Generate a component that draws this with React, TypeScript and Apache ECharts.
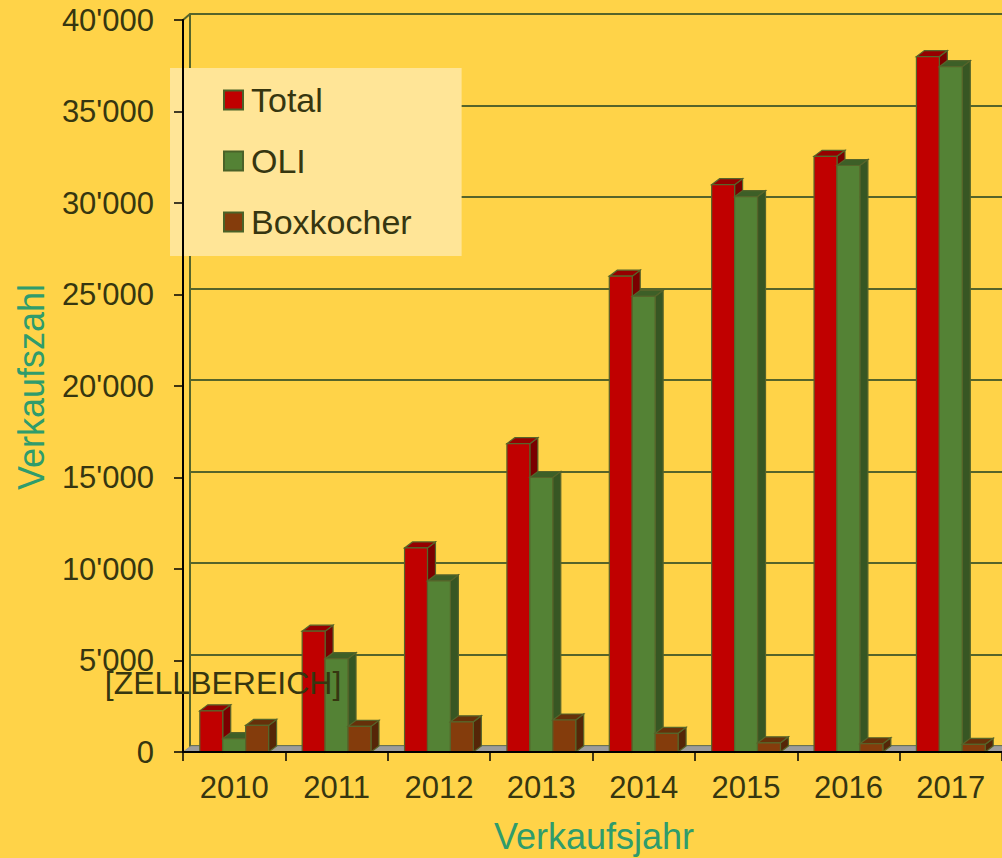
import React, { useEffect, useRef } from "react";
import * as echarts from "echarts";

const years = ["2010", "2011", "2012", "2013", "2014", "2015", "2016", "2017"];
const total = [2250, 6600, 11150, 16850, 26000, 31000, 32550, 38000];
const oli = [730, 5100, 9350, 15000, 24900, 30350, 32050, 37450];
const boxkocher = [1450, 1400, 1650, 1750, 1020, 500, 450, 420];
const seriesNames = ["Total", "OLI", "Boxkocher"];
const yTicks = { min: 0, max: 40000, interval: 5000 };

const FONT = "Liberation Sans, Arial, sans-serif";
const TEXT = "#363610";
const TITLE = "#2f9c6c";
const BG = "#FFD348";
const OLIVE = "#56642a";
const DX = 8;
const DY = -6;

const palette = [
  { front: "#C00000", top: "#960000", side: "#7a0000" },
  { front: "#548235", top: "#3d5f27", side: "#375623" },
  { front: "#843C0C", top: "#66300a", side: "#552608" },
];

function fmt(v: number) {
  if (v === 0) return "0";
  const s = String(v);
  return s.slice(0, s.length - 3) + "'" + s.slice(s.length - 3);
}

function barRenderer(k: number) {
  return (params: any, api: any) => {
    const idx = api.value(0);
    const val = api.value(1);
    const top = api.coord([idx, val]);
    const base = api.coord([idx, 0]);
    const band = api.size([1, 0])[0];
    const bw = band * 0.224;
    const x0 = top[0] - 1.5 * bw + k * bw;
    const x1 = x0 + bw;
    const yT = top[1];
    const yB = base[1];
    const c = palette[k];
    const stroke = { stroke: OLIVE, lineWidth: 1.2 };
    return {
      type: "group",
      children: [
        {
          type: "polygon",
          shape: { points: [[x1, yT], [x1 + DX, yT + DY], [x1 + DX, yB + DY], [x1, yB]] },
          style: { fill: c.side, ...stroke },
        },
        {
          type: "polygon",
          shape: { points: [[x0, yT], [x1, yT], [x1 + DX, yT + DY], [x0 + DX, yT + DY]] },
          style: { fill: c.top, ...stroke },
        },
        {
          type: "rect",
          shape: { x: x0, y: yT, width: bw, height: yB - yT },
          style: { fill: c.front, ...stroke },
        },
      ],
    };
  };
}

function floorRenderer(params: any, api: any) {
  if (api.value(0) !== 0) return null;
  const band = api.size([1, 0])[0];
  const a = api.coord([0, 0]);
  const b = api.coord([years.length - 1, 0]);
  const l = a[0] - band / 2;
  const r = b[0] + band / 2;
  const y = a[1];
  return {
    type: "polygon",
    shape: { points: [[l, y], [r, y], [r + DX, y + DY], [l + DX, y + DY]] },
    style: { fill: "#9c9c9c", stroke: "#8a8a8a", lineWidth: 0.8 },
  };
}

export default function App() {
  const ref = useRef<HTMLDivElement>(null);
  useEffect(() => {
    if (!ref.current) return;
    const chart = echarts.init(ref.current, undefined, { renderer: "svg" });
    const seriesData = [total, oli, boxkocher];
    chart.setOption({
      animation: false,
      backgroundColor: BG,
      textStyle: { fontFamily: FONT },
      grid: [
        { left: 183, top: 20, width: 822, height: 732 },
        { left: 190, top: 14, width: 822, height: 732 },
      ],
      xAxis: [
        {
          type: "category",
          gridIndex: 0,
          data: years,
          z: 5,
          axisLine: { lineStyle: { color: "#000", width: 2 } },
          axisTick: { show: true, length: 9, lineStyle: { color: "#000", width: 1.5 } },
          axisLabel: { color: TEXT, fontSize: 31, fontFamily: FONT, margin: 20 },
        },
        {
          type: "category",
          gridIndex: 1,
          data: years,
          show: false,
        },
      ],
      yAxis: [
        {
          type: "value",
          gridIndex: 0,
          ...yTicks,
          z: 5,
          splitLine: { show: false },
          axisLine: { show: true, lineStyle: { color: "#000", width: 2 } },
          axisTick: { show: true, length: 9, lineStyle: { color: "#000", width: 1.5 } },
          axisLabel: { color: TEXT, fontSize: 31, fontFamily: FONT, margin: 29, formatter: fmt },
        },
        {
          type: "value",
          gridIndex: 1,
          ...yTicks,
          axisLine: { show: true, lineStyle: { color: OLIVE, width: 2 } },
          axisTick: { show: false },
          axisLabel: { show: false },
          splitLine: { show: true, lineStyle: { color: OLIVE, width: 2.2 } },
        },
      ],
      legend: {
        data: seriesNames.map((n, i) => ({
          name: n,
          icon: "rect",
          itemStyle: { color: palette[i].front, borderColor: "#4a6228", borderWidth: 2 },
        })),
        orient: "vertical",
        left: 170,
        top: 68,
        padding: [14, 50, 16, 53],
        backgroundColor: "#FFE597",
        itemWidth: 19,
        itemHeight: 19,
        itemGap: 25,
        textStyle: { color: TEXT, fontSize: 34, fontFamily: FONT, lineHeight: 36, padding: [0, 0, 0, 3] },
        selectedMode: false,
      },
      graphic: [
        {
          type: "line",
          shape: { x1: 183, y1: 20, x2: 190, y2: 14 },
          style: { stroke: OLIVE, lineWidth: 2 },
          z: 1,
        },
        {
          type: "text",
          x: 31,
          y: 387,
          rotation: Math.PI / 2,
          style: {
            text: "Verkaufszahl",
            fill: TITLE,
            fontSize: 36,
            fontFamily: FONT,
            align: "center",
            verticalAlign: "middle",
          },
        },
        {
          type: "text",
          x: 594,
          y: 836,
          style: {
            text: "Verkaufsjahr",
            fill: TITLE,
            fontSize: 36,
            fontFamily: FONT,
            align: "center",
            verticalAlign: "middle",
          },
        },
        {
          type: "text",
          x: 223,
          y: 683,
          z: 100,
          style: {
            text: "[ZELLBEREICH]",
            fill: TEXT,
            fontSize: 32,
            fontFamily: FONT,
            align: "center",
            verticalAlign: "middle",
          },
        },
      ],
      series: [
        {
          type: "custom",
          name: "floor",
          xAxisIndex: 0,
          yAxisIndex: 0,
          z: 1,
          renderItem: floorRenderer,
          data: years.map((_, i) => [i, 0]),
          silent: true,
        },
        ...seriesNames.map((n, k) => ({
          type: "custom",
          name: n,
          xAxisIndex: 0,
          yAxisIndex: 0,
          z: 2,
          itemStyle: { color: palette[k].front },
          renderItem: barRenderer(k),
          encode: { x: 0, y: 1 },
          data: seriesData[k].map((v, i) => [i, v]),
        })),
      ],
    });
    return () => chart.dispose();
  }, []);
  return (
    <div
      ref={ref}
      style={{ position: "absolute", left: 0, top: 0, width: 1002, height: 858 }}
    />
  );
}
